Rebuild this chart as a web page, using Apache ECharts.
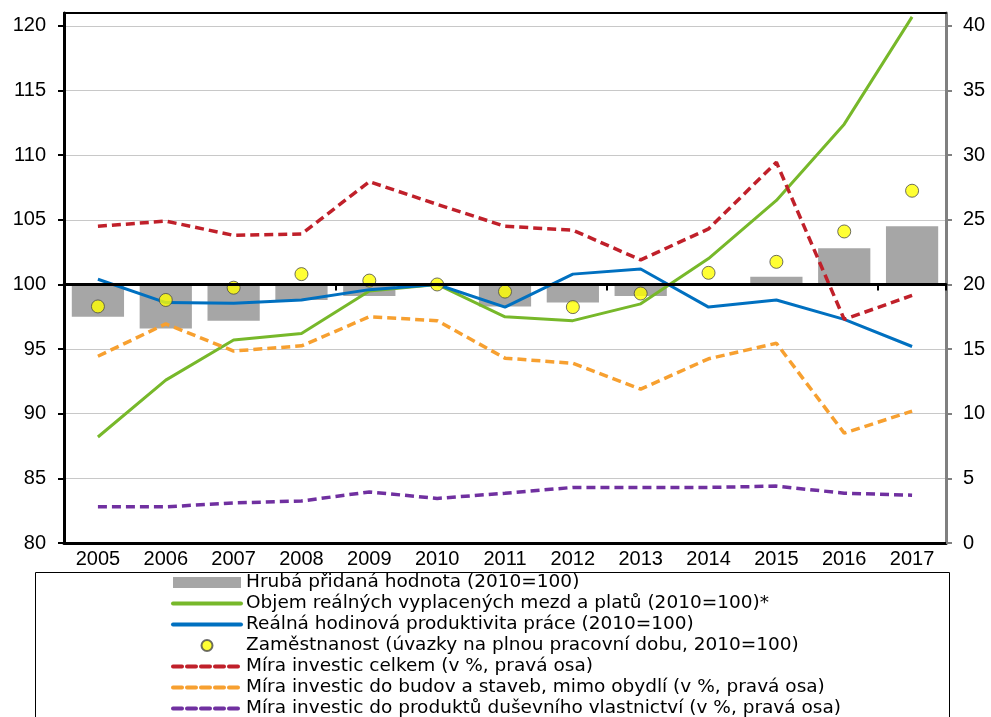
<!DOCTYPE html>
<html>
<head>
<meta charset="utf-8">
<script src="https://cdn.jsdelivr.net/npm/echarts@6/dist/echarts.min.js"></script>
<style>
html,body{margin:0;padding:0;background:#fff;}
#chart{width:991px;height:717px;}
</style>
</head>
<body>
<div id="chart"></div>
<script>
const years = ['2005','2006','2007','2008','2009','2010','2011','2012','2013','2014','2015','2016','2017'];
const gva = [97.5, 96.6, 97.2, 98.8, 99.1, 100, 98.3, 98.6, 99.1, 100.1, 100.6, 102.8, 104.5];
const wages = [88.2, 92.6, 95.7, 96.2, 99.5, 100, 97.5, 97.2, 98.5, 102.0, 106.5, 112.4, 120.7];
const productivity = [100.4, 98.6, 98.55, 98.8, 99.6, 100, 98.25, 100.8, 101.2, 98.25, 98.8, 97.3, 95.2];
const employment = [98.3, 98.8, 99.75, 100.8, 100.3, 100, 99.45, 98.25, 99.3, 100.9, 101.75, 104.1, 107.25];
const invTotal = [24.5, 24.9, 23.8, 23.9, 27.95, 26.2, 24.5, 24.2, 21.9, 24.3, 29.45, 17.3, 19.15];
const invBuild = [14.45, 16.95, 14.85, 15.25, 17.5, 17.2, 14.3, 13.9, 11.9, 14.25, 15.45, 8.5, 10.2];
const invIP = [2.8, 2.8, 3.1, 3.25, 3.95, 3.45, 3.85, 4.3, 4.3, 4.3, 4.4, 3.85, 3.7];

const names = [
  'Hrubá přidaná hodnota (2010=100)',
  'Objem reálných vyplacených mezd a platů (2010=100)*',
  'Reálná hodinová produktivita práce (2010=100)',
  'Zaměstnanost (úvazky na plnou pracovní dobu, 2010=100)',
  'Míra investic celkem (v %, pravá osa)',
  'Míra investic do budov a staveb, mimo obydlí (v %, pravá osa)',
  'Míra investic do produktů duševního vlastnictví (v %, pravá osa)'
];

const FONT = '"Liberation Sans", Arial, sans-serif';
const LEGEND_FONT = '"DejaVu Sans", Verdana, sans-serif';

const chart = echarts.init(document.getElementById('chart'), null, {renderer: 'canvas'});
const dash = [9, 5];
const noDot = {color: 'rgba(0,0,0,0)', borderColor: 'rgba(0,0,0,0)', borderWidth: 0};
chart.setOption({
  animation: false,
  backgroundColor: '#fff',
  grid: {left: 64, right: 45, top: 13, bottom: 174, containLabel: false},
  graphic: [{
    type: 'rect', z: 0,
    shape: {x: 35.5, y: 572.5, width: 914, height: 200},
    style: {fill: 'transparent', stroke: '#000', lineWidth: 1}
  }],
  legend: {
    orient: 'vertical', left: 171, top: 572, height: 300,
    itemWidth: 68, itemHeight: 11, itemGap: 0,
    padding: 0,
    lineStyle: {width: 4, cap: 'round'},
    textStyle: {fontFamily: LEGEND_FONT, fontSize: 18.5, color: '#000', lineHeight: 21},
    data: [
      {name: names[0], icon: 'rect'},
      {name: names[1], itemStyle: noDot},
      {name: names[2], itemStyle: noDot},
      {name: names[3], icon: 'circle'},
      {name: names[4], itemStyle: noDot},
      {name: names[5], itemStyle: noDot},
      {name: names[6], itemStyle: noDot}
    ]
  },
  xAxis: [
    {type: 'category', data: years, position: 'bottom',
     axisLine: {lineStyle: {color: '#000', width: 3}},
     axisTick: {show: false},
     axisLabel: {fontFamily: FONT, fontSize: 20, color: '#000', margin: 6}},
    {type: 'category', data: years, position: 'bottom', offset: -258.5, z: 10,
     axisLine: {lineStyle: {color: '#000', width: 3}},
     axisTick: {show: true, interval: 3, length: 6, lineStyle: {color: '#000', width: 2}},
     axisLabel: {show: false}},
    {type: 'category', data: years, position: 'top',
     axisLine: {lineStyle: {color: '#000', width: 2}},
     axisTick: {show: false}, axisLabel: {show: false}}
  ],
  yAxis: [
    {type: 'value', min: 80, max: 121, interval: 5, position: 'left', startValue: 100,
     axisLine: {show: true, lineStyle: {color: '#000', width: 3}},
     axisTick: {show: true, length: 6, lineStyle: {color: '#000', width: 2}},
     axisLabel: {fontFamily: FONT, fontSize: 20, color: '#000', margin: 18, showMaxLabel: false},
     splitLine: {show: true, lineStyle: {color: '#c8c8c8', width: 1}}},
    {type: 'value', min: 0, max: 41, interval: 5, position: 'right',
     axisLine: {show: true, lineStyle: {color: '#808080', width: 3}},
     axisTick: {show: true, length: 6, lineStyle: {color: '#808080', width: 2}},
     axisLabel: {fontFamily: FONT, fontSize: 20, color: '#000', margin: 17, showMaxLabel: false},
     splitLine: {show: false}}
  ],
  series: [
    {name: names[0], type: 'bar', yAxisIndex: 0, data: gva, barCategoryGap: '23%',
     itemStyle: {color: '#a6a6a6'}, z: 2},
    {name: names[1], type: 'line', yAxisIndex: 0, data: wages, symbol: 'none',
     lineStyle: {color: '#77b82a', width: 3}, itemStyle: {color: '#77b82a'}, z: 3},
    {name: names[2], type: 'line', yAxisIndex: 0, data: productivity, symbol: 'none',
     lineStyle: {color: '#0070c0', width: 3}, itemStyle: {color: '#0070c0'}, z: 3},
    {name: names[3], type: 'scatter', yAxisIndex: 0, data: employment, symbolSize: 13,
     itemStyle: {color: '#ffff00', borderColor: '#4a4a4a', borderWidth: 1}, z: 6},
    {name: names[4], type: 'line', yAxisIndex: 1, data: invTotal, symbol: 'none',
     lineStyle: {color: '#c0202a', width: 3.5, type: dash}, itemStyle: {color: '#c0202a'}, z: 4},
    {name: names[5], type: 'line', yAxisIndex: 1, data: invBuild, symbol: 'none',
     lineStyle: {color: '#f7a030', width: 3.5, type: dash}, itemStyle: {color: '#f7a030'}, z: 4},
    {name: names[6], type: 'line', yAxisIndex: 1, data: invIP, symbol: 'none',
     lineStyle: {color: '#7030a0', width: 3.5, type: dash}, itemStyle: {color: '#7030a0'}, z: 4}
  ]
});
</script>
</body>
</html>
